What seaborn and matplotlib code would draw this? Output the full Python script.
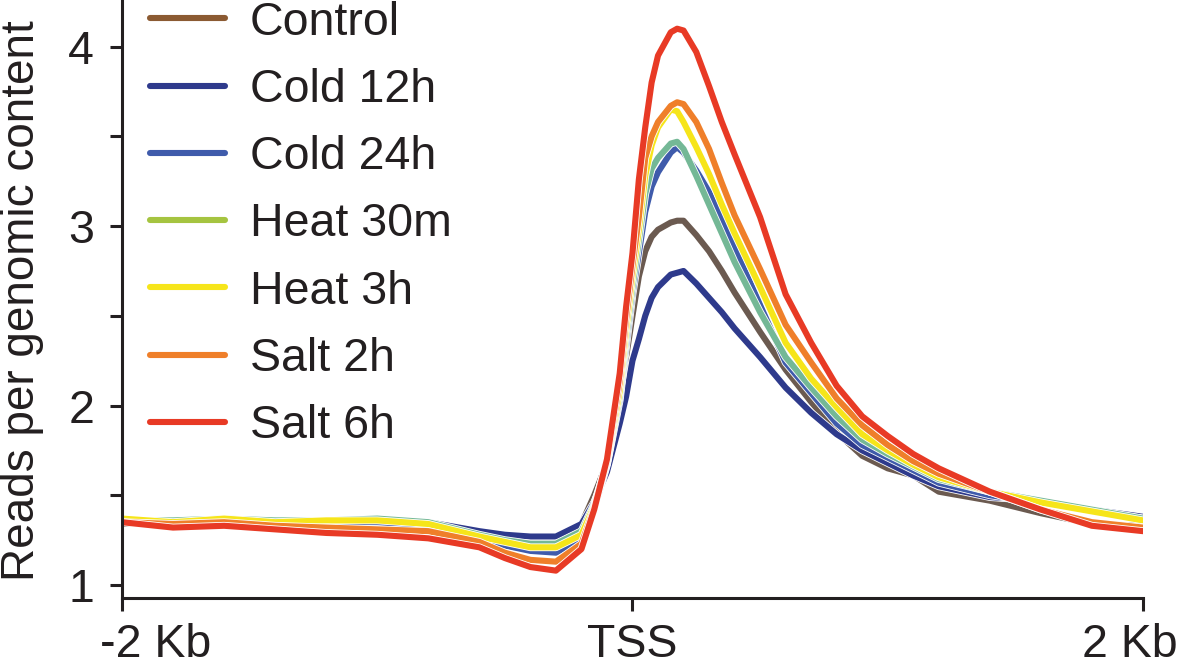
import pandas as pd
import matplotlib
matplotlib.use("Agg")
import matplotlib.pyplot as plt
import matplotlib.patheffects as pe
import matplotlib.transforms as mtransforms
from matplotlib.lines import Line2D
import seaborn as sns

# distance to TSS (bp)
positions = [-2000, -1800, -1600, -1400, -1200, -1000, -800,
             -600, -500, -400, -300,
             -200, -150, -100, -50, -25,
             0, 25, 50, 75,
             100, 150, 175, 200, 250, 300, 350, 400, 500,
             600, 700,
             800, 900, 1000, 1100, 1200, 1400, 1600, 1800, 2000]

conditions = ["Control", "Cold 12h", "Cold 24h", "Heat 30m", "Heat 3h", "Salt 2h", "Salt 6h"]

control = [1.34, 1.35, 1.35, 1.34, 1.35, 1.35, 1.33,
           1.29, 1.27, 1.26, 1.26,
           1.34, 1.50, 1.68, 2.02, 2.27,
           2.50, 2.72, 2.86, 2.94,
           2.98, 3.02, 3.03, 3.03, 2.95, 2.86, 2.75, 2.63, 2.41,
           2.20, 2.02,
           1.85, 1.72, 1.65, 1.61, 1.52, 1.47, 1.40, 1.34, 1.33]
cold_12h = [1.35, 1.36, 1.36, 1.35, 1.36, 1.36, 1.35,
            1.30, 1.28, 1.27, 1.27,
            1.34, 1.46, 1.63, 1.90, 2.05,
            2.25, 2.37, 2.50, 2.60,
            2.66, 2.73, 2.74, 2.75, 2.68, 2.60, 2.52, 2.43, 2.27,
            2.10, 1.96,
            1.84, 1.75, 1.68, 1.61, 1.55, 1.49, 1.47, 1.42, 1.38]
cold_24h = [1.35, 1.36, 1.36, 1.35, 1.35, 1.35, 1.33,
            1.26, 1.22, 1.19, 1.18,
            1.26, 1.42, 1.67, 2.03, 2.33,
            2.62, 2.85, 3.08, 3.22,
            3.30, 3.41, 3.44, 3.41, 3.31, 3.19, 3.04, 2.88, 2.56,
            2.24, 2.07,
            1.90, 1.78, 1.71, 1.64, 1.57, 1.50, 1.46, 1.41, 1.37]
heat_30m = [1.36, 1.36, 1.37, 1.36, 1.36, 1.37, 1.35,
            1.28, 1.25, 1.23, 1.23,
            1.30, 1.45, 1.68, 2.05, 2.37,
            2.66, 2.92, 3.18, 3.32,
            3.38, 3.46, 3.47, 3.43, 3.28, 3.12, 2.96, 2.80, 2.52,
            2.27, 2.10,
            1.94, 1.81, 1.73, 1.66, 1.59, 1.52, 1.47, 1.42, 1.37]
heat_3h = [1.37, 1.35, 1.37, 1.35, 1.36, 1.36, 1.34,
           1.27, 1.24, 1.21, 1.21,
           1.28, 1.44, 1.68, 2.08, 2.42,
           2.72, 2.98, 3.28, 3.45,
           3.55, 3.65, 3.64, 3.58, 3.44, 3.29, 3.12, 2.96, 2.66,
           2.35, 2.15,
           1.99, 1.84, 1.75, 1.67, 1.60, 1.52, 1.46, 1.41, 1.36]
salt_2h = [1.35, 1.34, 1.35, 1.33, 1.32, 1.31, 1.30,
           1.24, 1.18, 1.14, 1.13,
           1.23, 1.43, 1.69, 2.13, 2.48,
           2.78, 3.05, 3.38, 3.50,
           3.58, 3.67, 3.69, 3.68, 3.58, 3.43, 3.24, 3.06, 2.76,
           2.45, 2.24,
           2.04, 1.89, 1.78, 1.69, 1.62, 1.52, 1.42, 1.35, 1.32]
salt_6h = [1.35, 1.32, 1.33, 1.31, 1.29, 1.28, 1.26,
           1.21, 1.15, 1.10, 1.08,
           1.20, 1.42, 1.70, 2.18, 2.55,
           2.85, 3.26, 3.55, 3.80,
           3.95, 4.08, 4.10, 4.09, 3.97, 3.78, 3.58, 3.40, 3.05,
           2.62, 2.35,
           2.11, 1.94, 1.83, 1.73, 1.65, 1.52, 1.42, 1.33, 1.30]

line_colors = ["#6b5a50", "#2e3a8c", "#3f5bab", "#74b896", "#f6e51a", "#ef7f2a", "#e83a25"]
legend_colors = ["#8b5a32", "#2e3a8c", "#3f5bab", "#a5c440", "#f6e51a", "#ef7f2a", "#e83a25"]

xtick_pos = [-2000, 0, 2000]
xtick_labels = ["-2 Kb", "TSS", "2 Kb"]

profiles = [control, cold_12h, cold_24h, heat_30m, heat_3h, salt_2h, salt_6h]
df = pd.concat([pd.DataFrame({"pos": positions, "reads": vals, "condition": name})
                for name, vals in zip(conditions, profiles)])

sns.set_style("ticks")
plt.rcParams["font.family"] = ["Liberation Sans", "DejaVu Sans"]
FS = 33.5
INK = "#231f20"

fig = plt.figure(figsize=(11.8, 6.69), dpi=100)
ax = fig.add_axes([0.1034, 0.106, 0.8652, 0.894])

sns.lineplot(data=df, x="pos", y="reads", hue="condition", hue_order=conditions,
             palette=line_colors, estimator=None, linewidth=4.4, legend=False, ax=ax)
for ln in ax.lines:
    ln.set_solid_joinstyle("round")
    ln.set_path_effects([pe.Stroke(linewidth=5.6, foreground="white"), pe.Normal()])

ax.set_xlim(-2000, 2000)
ax.set_ylim(0.927, 4.26)
ax.set_xticks(xtick_pos)
ax.set_xticklabels(xtick_labels)
ax.set_yticks([1, 1.5, 2, 2.5, 3, 3.5, 4])
ax.set_yticklabels(["1", "", "2", "", "3", "", "4"])
ax.tick_params(axis="both", labelsize=FS, length=9, width=2.2, color=INK, labelcolor=INK)
ax.tick_params(axis="y", pad=11)
ax.tick_params(axis="x", pad=9)
for s in ["left", "bottom"]:
    ax.spines[s].set_linewidth(2.2)
    ax.spines[s].set_color(INK)
sns.despine(ax=ax)

# end labels sit inside the figure, like the original
xl = ax.get_xticklabels()
xl[0].set_ha("left")
xl[0].set_transform(xl[0].get_transform() + mtransforms.ScaledTranslation(-0.22, 0, fig.dpi_scale_trans))
xl[-1].set_ha("right")
xl[-1].set_transform(xl[-1].get_transform() + mtransforms.ScaledTranslation(0.35, 0, fig.dpi_scale_trans))

ax.set_xlabel("")
ax.set_ylabel("Reads per genomic content", fontsize=33, color=INK)
ax.yaxis.set_label_coords(-0.076, 0.497)

handles = [Line2D([0], [0], color=c, lw=4.4) for c in legend_colors]
ax.legend(handles, conditions, loc="upper left", bbox_to_anchor=(150 / 1180, 0.999),
          bbox_transform=fig.transFigure, frameon=False, fontsize=FS,
          handlelength=1.62, handletextpad=0.52, labelspacing=0.5,
          borderpad=0, borderaxespad=0, labelcolor=INK)

fig.savefig("out.png", dpi=100)
